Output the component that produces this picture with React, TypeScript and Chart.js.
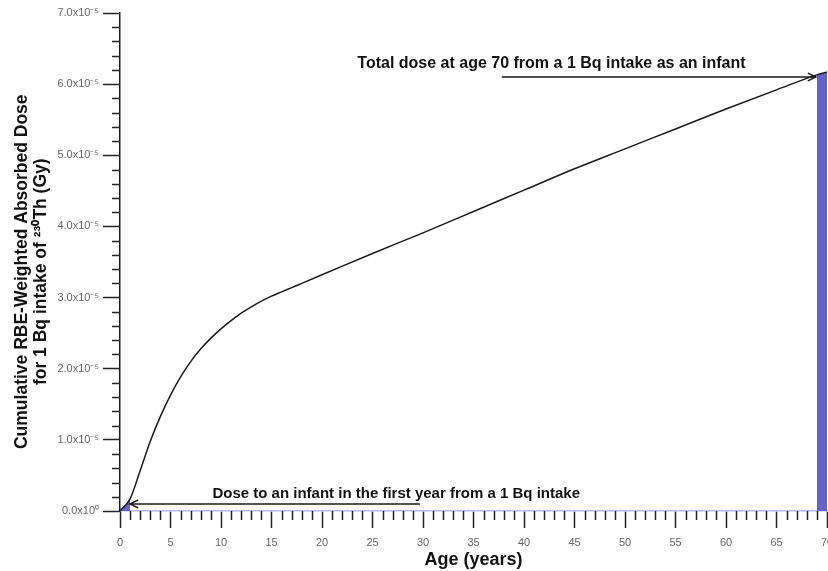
import React, { useEffect, useRef } from 'react';
import { Chart, registerables } from 'chart.js';

Chart.register(...registerables);

// Age in years
const ages = [0, 1, 2, 3, 4, 5, 6, 7, 8, 9, 10, 11, 12, 13, 14, 15, 16, 17, 18, 20, 25, 30, 35, 40, 45, 50, 55, 60, 65, 69, 70];
// Cumulative dose, in units of 1e-5 Gy
const doseE5 = [0, 0.17, 0.57, 0.98, 1.33, 1.63, 1.885, 2.1, 2.28, 2.43, 2.56, 2.675, 2.78, 2.87, 2.95, 3.02, 3.08, 3.14, 3.2, 3.32, 3.62, 3.91, 4.21, 4.51, 4.81, 5.09, 5.37, 5.65, 5.92, 6.13, 6.17];

const firstYearRange = [0, 1];
const lastYearRange = [69, 70];

const xMin = 0;
const xMax = 70;
const xMajorStep = 5;
const xMinorStep = 1;
const yMin = 0;
const yMax = 7;
const yMajorStep = 1;
const yMinorStep = 0.2;

const annotationTop = { text: 'Total dose at age 70 from a 1 Bq intake as an infant', textAge: 23.5, textDose: 6.29, fromAge: 37.8, toAge: 68.9, arrowDose: 6.1 };
const annotationBottom = { text: 'Dose to an infant in the first year from a 1 Bq intake', textAge: 9.15, textDose: 0.24, fromAge: 29.7, toAge: 1.0, arrowDose: 0.1 };

const FONT = '"Liberation Sans", Arial, Helvetica, sans-serif';
const BLUE = '#6464c8';

const points = ages.map((a, i) => ({ x: a, y: doseE5[i] }));

function drawArrow(ctx: CanvasRenderingContext2D, x1: number, y1: number, x2: number, y2: number) {
  ctx.save();
  ctx.strokeStyle = '#1a1a1a';
  ctx.lineWidth = 1.5;
  ctx.beginPath();
  ctx.moveTo(x1, y1);
  ctx.lineTo(x2, y2);
  ctx.stroke();
  const ang = Math.atan2(y2 - y1, x2 - x1);
  const len = 9;
  const spread = 0.45;
  ctx.beginPath();
  ctx.moveTo(x2 - len * Math.cos(ang - spread), y2 - len * Math.sin(ang - spread));
  ctx.lineTo(x2, y2);
  ctx.lineTo(x2 - len * Math.cos(ang + spread), y2 - len * Math.sin(ang + spread));
  ctx.stroke();
  ctx.restore();
}

const extrasPlugin = {
  id: 'extras',
  afterDraw(chart: any) {
    const ctx: CanvasRenderingContext2D = chart.ctx;
    const xs = chart.scales.x;
    const ys = chart.scales.y;
    const area = chart.chartArea;
    ctx.save();
    ctx.strokeStyle = '#222';
    ctx.lineWidth = 1.5;
    // minor x ticks
    for (let v = xMin; v <= xMax + 1e-9; v += xMinorStep) {
      if (Math.abs(v % xMajorStep) < 1e-9) continue;
      const px = Math.round(xs.getPixelForValue(v)) + 0.5;
      ctx.beginPath();
      ctx.moveTo(px, area.bottom);
      ctx.lineTo(px, area.bottom + 9);
      ctx.stroke();
    }
    // minor y ticks
    const n = Math.round((yMax - yMin) / yMinorStep);
    for (let i = 0; i <= n; i++) {
      const v = yMin + i * yMinorStep;
      if (Math.abs(v - Math.round(v / yMajorStep) * yMajorStep) < 1e-6) continue;
      const py = Math.round(ys.getPixelForValue(v)) + 0.5;
      ctx.beginPath();
      ctx.moveTo(area.left - 8, py);
      ctx.lineTo(area.left, py);
      ctx.stroke();
    }
    ctx.restore();

    // annotations
    ctx.save();
    ctx.fillStyle = '#111';
    ctx.textBaseline = 'middle';
    ctx.textAlign = 'left';
    ctx.font = `bold 16px ${FONT}`;
    ctx.fillText(annotationTop.text, xs.getPixelForValue(annotationTop.textAge), ys.getPixelForValue(annotationTop.textDose));
    ctx.font = `bold 15px ${FONT}`;
    ctx.fillText(annotationBottom.text, xs.getPixelForValue(annotationBottom.textAge), ys.getPixelForValue(annotationBottom.textDose));
    ctx.restore();
    drawArrow(ctx, xs.getPixelForValue(annotationTop.fromAge), ys.getPixelForValue(annotationTop.arrowDose), xs.getPixelForValue(annotationTop.toAge), ys.getPixelForValue(annotationTop.arrowDose));
    drawArrow(ctx, xs.getPixelForValue(annotationBottom.fromAge), ys.getPixelForValue(annotationBottom.arrowDose), xs.getPixelForValue(annotationBottom.toAge), ys.getPixelForValue(annotationBottom.arrowDose));
  },
};

export default function App() {
  const canvasRef = useRef<HTMLCanvasElement | null>(null);
  useEffect(() => {
    const canvas = canvasRef.current;
    if (!canvas) return;
    const chart = new Chart(canvas, {
      type: 'line',
      data: {
        datasets: [
          {
            label: 'Cumulative dose',
            data: points,
            borderColor: '#1a1a1a',
            borderWidth: 1.5,
            pointRadius: 0,
            fill: false,
            cubicInterpolationMode: 'monotone',
            order: 0,
          },
          {
            label: 'First year',
            data: points.filter((p) => p.x >= firstYearRange[0] && p.x <= firstYearRange[1]),
            borderWidth: 0,
            borderColor: 'rgba(0,0,0,0)',
            backgroundColor: BLUE,
            pointRadius: 0,
            fill: 'origin',
            order: 1,
          },
          {
            label: 'Last year',
            data: points.filter((p) => p.x >= lastYearRange[0] && p.x <= lastYearRange[1]),
            borderWidth: 0,
            borderColor: 'rgba(0,0,0,0)',
            backgroundColor: BLUE,
            pointRadius: 0,
            fill: 'origin',
            order: 2,
          },
        ],
      },
      options: {
        responsive: false,
        animation: false,
        layout: { padding: { top: 13, right: 1, left: 0, bottom: 0 } },
        plugins: { legend: { display: false }, tooltip: { enabled: false } },
        scales: {
          x: {
            type: 'linear',
            min: xMin,
            max: xMax,
            afterFit(scale: any) {
              scale.height = 60;
              scale.paddingLeft = 0;
              scale.paddingRight = 0;
            },
            ticks: {
              stepSize: xMajorStep,
              color: '#666',
              font: { family: FONT, size: 11 },
              padding: 8,
              maxRotation: 0,
              autoSkip: false,
            },
            grid: { display: true, drawOnChartArea: false, drawTicks: true, tickLength: 17, tickColor: '#222', tickWidth: 1.5 },
            border: { display: true, color: '#b8b8ea', width: 1.5 },
            title: {
              display: true,
              text: 'Age (years)',
              color: '#111',
              font: { family: FONT, size: 18, weight: 'bold' },
              padding: { top: 0, bottom: 0 },
            },
          },
          y: {
            type: 'linear',
            min: yMin,
            max: yMax,
            afterFit(scale: any) {
              scale.width = 120;
              scale.paddingTop = 0;
              scale.paddingBottom = 0;
            },
            ticks: {
              stepSize: yMajorStep,
              color: '#666',
              font: { family: FONT, size: 11 },
              padding: 4,
              callback: (v: any) => {
                const n = Number(v);
                return n === 0 ? '0.0x10\u2070' : `${n.toFixed(1)}x10\u207B\u2075`;
              },
            },
            grid: { display: true, drawOnChartArea: false, drawTicks: true, tickLength: 17, tickColor: '#222', tickWidth: 1.5 },
            border: { display: true, color: '#1a1a1a', width: 1.5 },
            title: {
              display: true,
              text: ['Cumulative RBE-Weighted Absorbed Dose    ', 'for 1 Bq intake of \u00B2\u00B3\u2070Th (Gy)    '],
              color: '#111',
              font: { family: FONT, size: 17.5, weight: 'bold', lineHeight: 1.12 },
              padding: { top: 12, bottom: 0 },
            },
          },
        },
      },
      plugins: [extrasPlugin],
    } as any);
    return () => chart.destroy();
  }, []);
  return (
    <div style={{ position: 'fixed', left: 0, top: 0, width: 828, height: 571, background: '#fff' }}>
      <canvas ref={canvasRef} width={828} height={571} />
    </div>
  );
}
